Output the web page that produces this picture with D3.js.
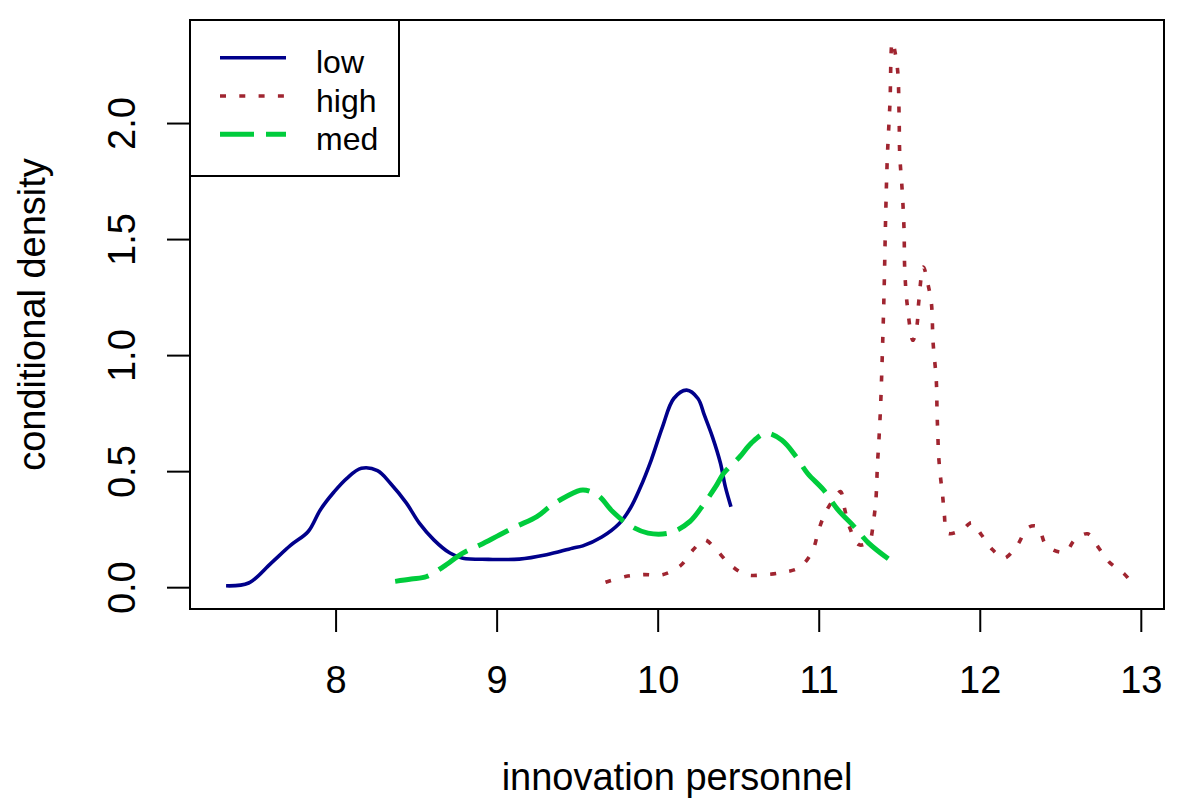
<!DOCTYPE html>
<html>
<head>
<meta charset="utf-8">
<script src="https://cdn.jsdelivr.net/npm/d3@7"></script>
<style>
  body { margin: 0; background: #fff; }
  text { font-family: "Liberation Sans", Arial, sans-serif; fill: #000; }
</style>
</head>
<body>
<div id="chart"></div>
<script>
// conditional density
const lowX  = [7.32, 7.46, 7.60, 7.72, 7.83, 7.905, 7.99, 8.07, 8.16, 8.26, 8.34, 8.44, 8.52, 8.61, 8.71, 8.79, 8.95, 9.14, 9.31, 9.47, 9.535, 9.653, 9.76, 9.83, 9.89, 9.96, 10.03, 10.10, 10.18, 10.25, 10.29, 10.34, 10.39, 10.42, 10.455];
const lowY  = [0.006, 0.018, 0.104, 0.18, 0.24, 0.333, 0.41, 0.469, 0.512, 0.502, 0.448, 0.362, 0.276, 0.204, 0.147, 0.125, 0.12, 0.121, 0.14, 0.168, 0.178, 0.216, 0.273, 0.34, 0.426, 0.548, 0.691, 0.813, 0.849, 0.813, 0.741, 0.648, 0.534, 0.433, 0.347];

const medX  = [8.37, 8.47, 8.566, 8.67, 8.79, 8.90, 9.02, 9.12, 9.25, 9.33, 9.43, 9.535, 9.63, 9.72, 9.82, 9.94, 10.08, 10.20, 10.29, 10.36, 10.41, 10.51, 10.58, 10.67, 10.77, 10.86, 10.93, 11.03, 11.12, 11.22, 11.31, 11.44];
const medY  = [0.025, 0.035, 0.046, 0.089, 0.147, 0.183, 0.226, 0.261, 0.304, 0.347, 0.39, 0.419, 0.395, 0.326, 0.269, 0.233, 0.235, 0.283, 0.362, 0.433, 0.491, 0.562, 0.62, 0.663, 0.634, 0.562, 0.491, 0.419, 0.333, 0.261, 0.19, 0.118];

const highX = [9.676, 9.80, 9.91, 10.03, 10.14, 10.22, 10.29, 10.36, 10.45, 10.55, 10.67, 10.78, 10.88, 10.96, 11.00, 11.04, 11.09, 11.135, 11.16, 11.19, 11.25, 11.30, 11.32, 11.34, 11.355, 11.365, 11.372, 11.384, 11.396, 11.406, 11.416, 11.426, 11.437, 11.443, 11.457, 11.488, 11.499, 11.503, 11.519, 11.53, 11.534, 11.55, 11.585, 11.61, 11.62, 11.65, 11.68, 11.70, 11.71, 11.73, 11.735, 11.74, 11.745, 11.756, 11.77, 11.78, 11.80, 11.89, 11.95, 12.01, 12.08, 12.15, 12.23, 12.30, 12.36, 12.415, 12.53, 12.59, 12.67, 12.735, 12.80, 12.896, 12.92];
const highY = [0.021, 0.046, 0.054, 0.054, 0.092, 0.161, 0.204, 0.164, 0.097, 0.054, 0.054, 0.064, 0.085, 0.154, 0.247, 0.319, 0.376, 0.412, 0.34, 0.261, 0.183, 0.19, 0.204, 0.283, 0.376, 0.534, 0.612, 0.777, 1.028, 1.278, 1.608, 1.851, 2.009, 2.095, 2.35, 2.24, 2.038, 1.866, 1.701, 1.536, 1.372, 1.214, 1.064, 1.128, 1.221, 1.38, 1.30, 1.221, 1.056, 0.892, 0.75, 0.648, 0.562, 0.476, 0.39, 0.312, 0.233, 0.247, 0.278, 0.226, 0.161, 0.125, 0.178, 0.257, 0.261, 0.178, 0.151, 0.204, 0.23, 0.173, 0.111, 0.058, 0.04];

const xTicks = [8, 9, 10, 11, 12, 13];
const yTicks = [0.0, 0.5, 1.0, 1.5, 2.0];
const legendLabels = ["low", "high", "med"];

const width = 1179;
const height = 804;
const box = { left: 190, right: 1164, top: 20, bottom: 609 };

const series = [
    { name: "low",  xs: lowX,  ys: lowY,  color: "#00008b", width: 3.6, dash: null },
    { name: "high", xs: highX, ys: highY, color: "#a02530", width: 3.6, dash: "6 13.3" },
    { name: "med",  xs: medX,  ys: medY,  color: "#00cc3c", width: 5,   dash: "34 12" }
];

// R style: data range padded by 4% on each side
const allX = [].concat(lowX, medX, highX);
const xMin = d3.min(allX), xMax = d3.max(allX);
const xPad = (xMax - xMin) * 0.04;
const yMax = d3.max([].concat(lowY, medY, highY));
const yPad = yMax * 0.04;

const x = d3.scaleLinear().domain([xMin - xPad, xMax + xPad]).range([box.left, box.right]);
const y = d3.scaleLinear().domain([0 - yPad, yMax + yPad]).range([box.bottom, box.top]);

const svg = d3.select("#chart")
    .append("svg")
    .attr("width", width)
    .attr("height", height);

svg.append("rect")
    .attr("width", width)
    .attr("height", height)
    .attr("fill", "#fff");

const line = d3.line()
    .curve(d3.curveCatmullRom.alpha(0.5))
    .x(d => x(d[0]))
    .y(d => y(d[1]));

series.forEach(s => {
    const pts = s.xs.map((v, i) => [v, s.ys[i]]);
    svg.append("path")
        .datum(pts)
        .attr("d", line)
        .attr("fill", "none")
        .attr("stroke", s.color)
        .attr("stroke-width", s.width)
        .attr("stroke-linejoin", "round")
        .attr("stroke-dasharray", s.dash);
});

// axes
const xAxis = svg.append("g")
    .attr("transform", `translate(0,${box.bottom})`)
    .call(d3.axisBottom(x).tickValues(xTicks).tickSize(23).tickPadding(34).tickFormat(d3.format("d")));
xAxis.select(".domain").remove();
xAxis.selectAll("line").attr("stroke", "#000").attr("stroke-width", 2);
xAxis.selectAll("text").attr("font-size", 38).attr("font-family", "Liberation Sans, Arial, sans-serif");

const yAxis = svg.append("g")
    .attr("transform", `translate(${box.left},0)`)
    .call(d3.axisLeft(y).tickValues(yTicks).tickSize(23).tickFormat(d3.format(".1f")));
yAxis.select(".domain").remove();
yAxis.selectAll("line").attr("stroke", "#000").attr("stroke-width", 2);
yAxis.selectAll("text")
    .attr("x", null)
    .attr("dy", null)
    .attr("text-anchor", "middle")
    .attr("transform", "translate(-55,0) rotate(-90)")
    .attr("font-size", 38)
    .attr("font-family", "Liberation Sans, Arial, sans-serif");

// plot box
svg.append("rect")
    .attr("x", box.left)
    .attr("y", box.top)
    .attr("width", box.right - box.left)
    .attr("height", box.bottom - box.top)
    .attr("fill", "none")
    .attr("stroke", "#000")
    .attr("stroke-width", 2);

// axis titles
svg.append("text")
    .attr("x", (box.left + box.right) / 2)
    .attr("y", 790)
    .attr("text-anchor", "middle")
    .attr("font-size", 38)
    .text("innovation personnel");

svg.append("text")
    .attr("transform", `translate(45,${(box.top + box.bottom) / 2}) rotate(-90)`)
    .attr("text-anchor", "middle")
    .attr("font-size", 38)
    .text("conditional density");

// legend
const legend = svg.append("g");
legend.append("rect")
    .attr("x", box.left)
    .attr("y", box.top)
    .attr("width", 209)
    .attr("height", 156)
    .attr("fill", "#fff")
    .attr("stroke", "#000")
    .attr("stroke-width", 2);

legendLabels.forEach((lab, i) => {
    const s = series.find(d => d.name === lab);
    const ly = 57.7 + i * 38.3;
    legend.append("line")
        .attr("x1", 220)
        .attr("x2", 286)
        .attr("y1", ly)
        .attr("y2", ly)
        .attr("stroke", s.color)
        .attr("stroke-width", s.width)
        .attr("stroke-dasharray", s.dash);
    legend.append("text")
        .attr("x", 316)
        .attr("y", ly + 15.5)
        .attr("font-size", 32)
        .text(lab);
});
</script>
</body>
</html>
